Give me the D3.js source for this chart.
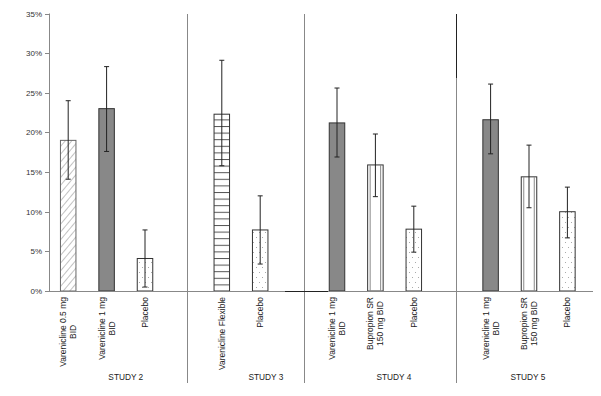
<!DOCTYPE html>
<html>
<head>
<meta charset="utf-8">
<script src="https://cdn.jsdelivr.net/npm/d3@7"></script>
<style>
body { margin: 0; background: #fff; }
svg { display: block; font-family: "Liberation Sans", Arial, sans-serif; }
</style>
</head>
<body>
<svg id="chart" width="601" height="396"></svg>
<script>
// chart data
const studies = ["STUDY 2", "STUDY 3", "STUDY 4", "STUDY 5"];
const labels = [
    ["Varenicline 0.5 mg", "BID"], ["Varenicline 1 mg", "BID"], ["Placebo"],
    ["Varenicline Flexible"], ["Placebo"],
    ["Varenicline 1 mg", "BID"], ["Bupropion SR", "150 mg BID"], ["Placebo"],
    ["Varenicline 1 mg", "BID"], ["Bupropion SR", "150 mg BID"], ["Placebo"]
];
const studyOf = [0, 0, 0, 1, 1, 2, 2, 2, 3, 3, 3];
const values  = [19.0, 23.0, 4.1, 22.3, 7.7, 21.2, 15.9, 7.8, 21.6, 14.4, 10.0];
const errLow  = [14.1, 17.6, 0.5, 15.8, 3.4, 16.9, 11.9, 4.9, 17.3, 10.5, 6.7];
const errHigh = [24.0, 28.3, 7.7, 29.1, 12.0, 25.6, 19.8, 10.7, 26.1, 18.4, 13.1];
const fills   = ["hatch", "solid", "dots", "hlines", "dots", "solid", "vlines", "dots", "solid", "vlines", "dots"];
const yTicks  = [0, 5, 10, 15, 20, 25, 30, 35];

let svg = d3.select("#chart");

// one slot per bar, one empty slot between studies
let x = d3.scaleLinear().domain([0, 14]).range([49, 49 + 14 * 38.4]);
let y = d3.scaleLinear().domain([0, 35]).range([291, 13.5]);
let barW = 15.5;

let defs = svg.append("defs");
let hatch = defs.append("pattern").attr("id", "hatch")
    .attr("patternUnits", "userSpaceOnUse").attr("width", 5).attr("height", 5)
    .attr("patternTransform", "rotate(40)");
hatch.append("rect").attr("width", 5).attr("height", 5).attr("fill", "#fff");
hatch.append("line").attr("x1", 0).attr("x2", 0).attr("y1", 0).attr("y2", 5)
    .attr("stroke", "#999").attr("stroke-width", 1.2);

let hl = defs.append("pattern").attr("id", "hlines")
    .attr("patternUnits", "userSpaceOnUse").attr("width", 10).attr("height", 6.6)
    .attr("y", y(0));
hl.append("rect").attr("width", 10).attr("height", 6.6).attr("fill", "#fff");
hl.append("line").attr("x1", 0).attr("x2", 10).attr("y1", 0.5).attr("y2", 0.5)
    .attr("stroke", "#555").attr("stroke-width", 1);

let dots = defs.append("pattern").attr("id", "dots")
    .attr("patternUnits", "userSpaceOnUse").attr("width", 6).attr("height", 10);
dots.append("rect").attr("width", 6).attr("height", 10).attr("fill", "#fff");
dots.append("rect").attr("x", 1).attr("y", 2).attr("width", 1).attr("height", 1).attr("fill", "#aaa");
dots.append("rect").attr("x", 4).attr("y", 7).attr("width", 1).attr("height", 1).attr("fill", "#aaa");

let fillOf = {hatch: "url(#hatch)", solid: "#888", hlines: "url(#hlines)", vlines: "#fff", dots: "url(#dots)"};
let strokeOf = {hatch: "#666", solid: "#333", hlines: "#333", vlines: "#333", dots: "#333"};

let slot = values.map((v, i) => i + studyOf[i]);
let cx = i => x(slot[i] + 0.5);

// separators between studies
let sepAt = [3.6, 6.63, 10.6];
svg.selectAll(".sep").data(sepAt).enter().append("line")
    .attr("class", "sep")
    .attr("x1", d => Math.round(x(d)) + 0.5).attr("x2", d => Math.round(x(d)) + 0.5)
    .attr("y1", 14).attr("y2", 383)
    .attr("stroke", "#888");
svg.append("line")
    .attr("x1", Math.round(x(sepAt[2])) + 0.5).attr("x2", Math.round(x(sepAt[2])) + 0.5)
    .attr("y1", 14).attr("y2", 78).attr("stroke", "#222");

// y axis
svg.append("line").attr("x1", 49.5).attr("x2", 49.5).attr("y1", y(35)).attr("y2", y(0)).attr("stroke", "#888");
svg.selectAll(".ytick").data(yTicks).enter().append("line")
    .attr("x1", 45).attr("x2", 49).attr("y1", d => Math.round(y(d)) + 0.5).attr("y2", d => Math.round(y(d)) + 0.5)
    .attr("stroke", "#888");
svg.selectAll(".ylab").data(yTicks).enter().append("text")
    .attr("x", 42).attr("y", d => y(d) + 3)
    .attr("text-anchor", "end").attr("font-size", 8).attr("fill", "#333")
    .text(d => d + "%");

// bars
let bars = svg.selectAll(".bar").data(values).enter().append("rect")
    .attr("class", "bar")
    .attr("x", (d, i) => cx(i) - barW / 2)
    .attr("y", d => y(d))
    .attr("width", barW)
    .attr("height", d => y(0) - y(d))
    .attr("fill", (d, i) => fillOf[fills[i]])
    .attr("stroke", (d, i) => strokeOf[fills[i]]);

// vertical stripes for the bupropion bars
values.forEach((v, i) => {
    if (fills[i] != "vlines") return;
    [2.5, barW - 2.5].forEach(o => {
        svg.append("line")
            .attr("x1", cx(i) - barW / 2 + o).attr("x2", cx(i) - barW / 2 + o)
            .attr("y1", y(v)).attr("y2", y(0))
            .attr("stroke", "#888");
    });
});

// x axis
svg.append("line").attr("x1", 49).attr("x2", 593).attr("y1", 291.5).attr("y2", 291.5).attr("stroke", "#888");
svg.append("line").attr("x1", 285).attr("x2", 328).attr("y1", 291.5).attr("y2", 291.5).attr("stroke", "#222");

// error bars
let err = svg.selectAll(".err").data(values).enter().append("g").attr("class", "err");
err.append("line")
    .attr("x1", (d, i) => cx(i)).attr("x2", (d, i) => cx(i))
    .attr("y1", (d, i) => y(errHigh[i])).attr("y2", (d, i) => y(errLow[i]))
    .attr("stroke", "#222");
err.append("line")
    .attr("x1", (d, i) => cx(i) - 2.5).attr("x2", (d, i) => cx(i) + 2.5)
    .attr("y1", (d, i) => y(errHigh[i])).attr("y2", (d, i) => y(errHigh[i]))
    .attr("stroke", "#222");
err.append("line")
    .attr("x1", (d, i) => cx(i) - 2.5).attr("x2", (d, i) => cx(i) + 2.5)
    .attr("y1", (d, i) => y(errLow[i])).attr("y2", (d, i) => y(errLow[i]))
    .attr("stroke", "#222");

// rotated category labels, lines centred on the longest one
labels.forEach((lines, i) => {
    let g = svg.append("g").attr("transform", "translate(" + cx(i) + ",297) rotate(-90)");
    let texts = lines.map((t, k) => g.append("text")
        .attr("font-size", 8.5).attr("fill", "#222")
        .attr("text-anchor", "middle")
        .attr("y", 3 + (k - (lines.length - 1) / 2) * 10)
        .text(t));
    let maxLen = d3.max(texts, t => t.node().getComputedTextLength());
    texts.forEach(t => t.attr("x", -maxLen / 2));
});

// study labels
let studyAt = [2.0, 5.65, 8.98, 12.47];
svg.selectAll(".study").data(studies).enter().append("text")
    .attr("x", (d, i) => x(studyAt[i])).attr("y", 380)
    .attr("text-anchor", "middle").attr("font-size", 8.3).attr("fill", "#222")
    .text(d => d);
</script>
</body>
</html>
